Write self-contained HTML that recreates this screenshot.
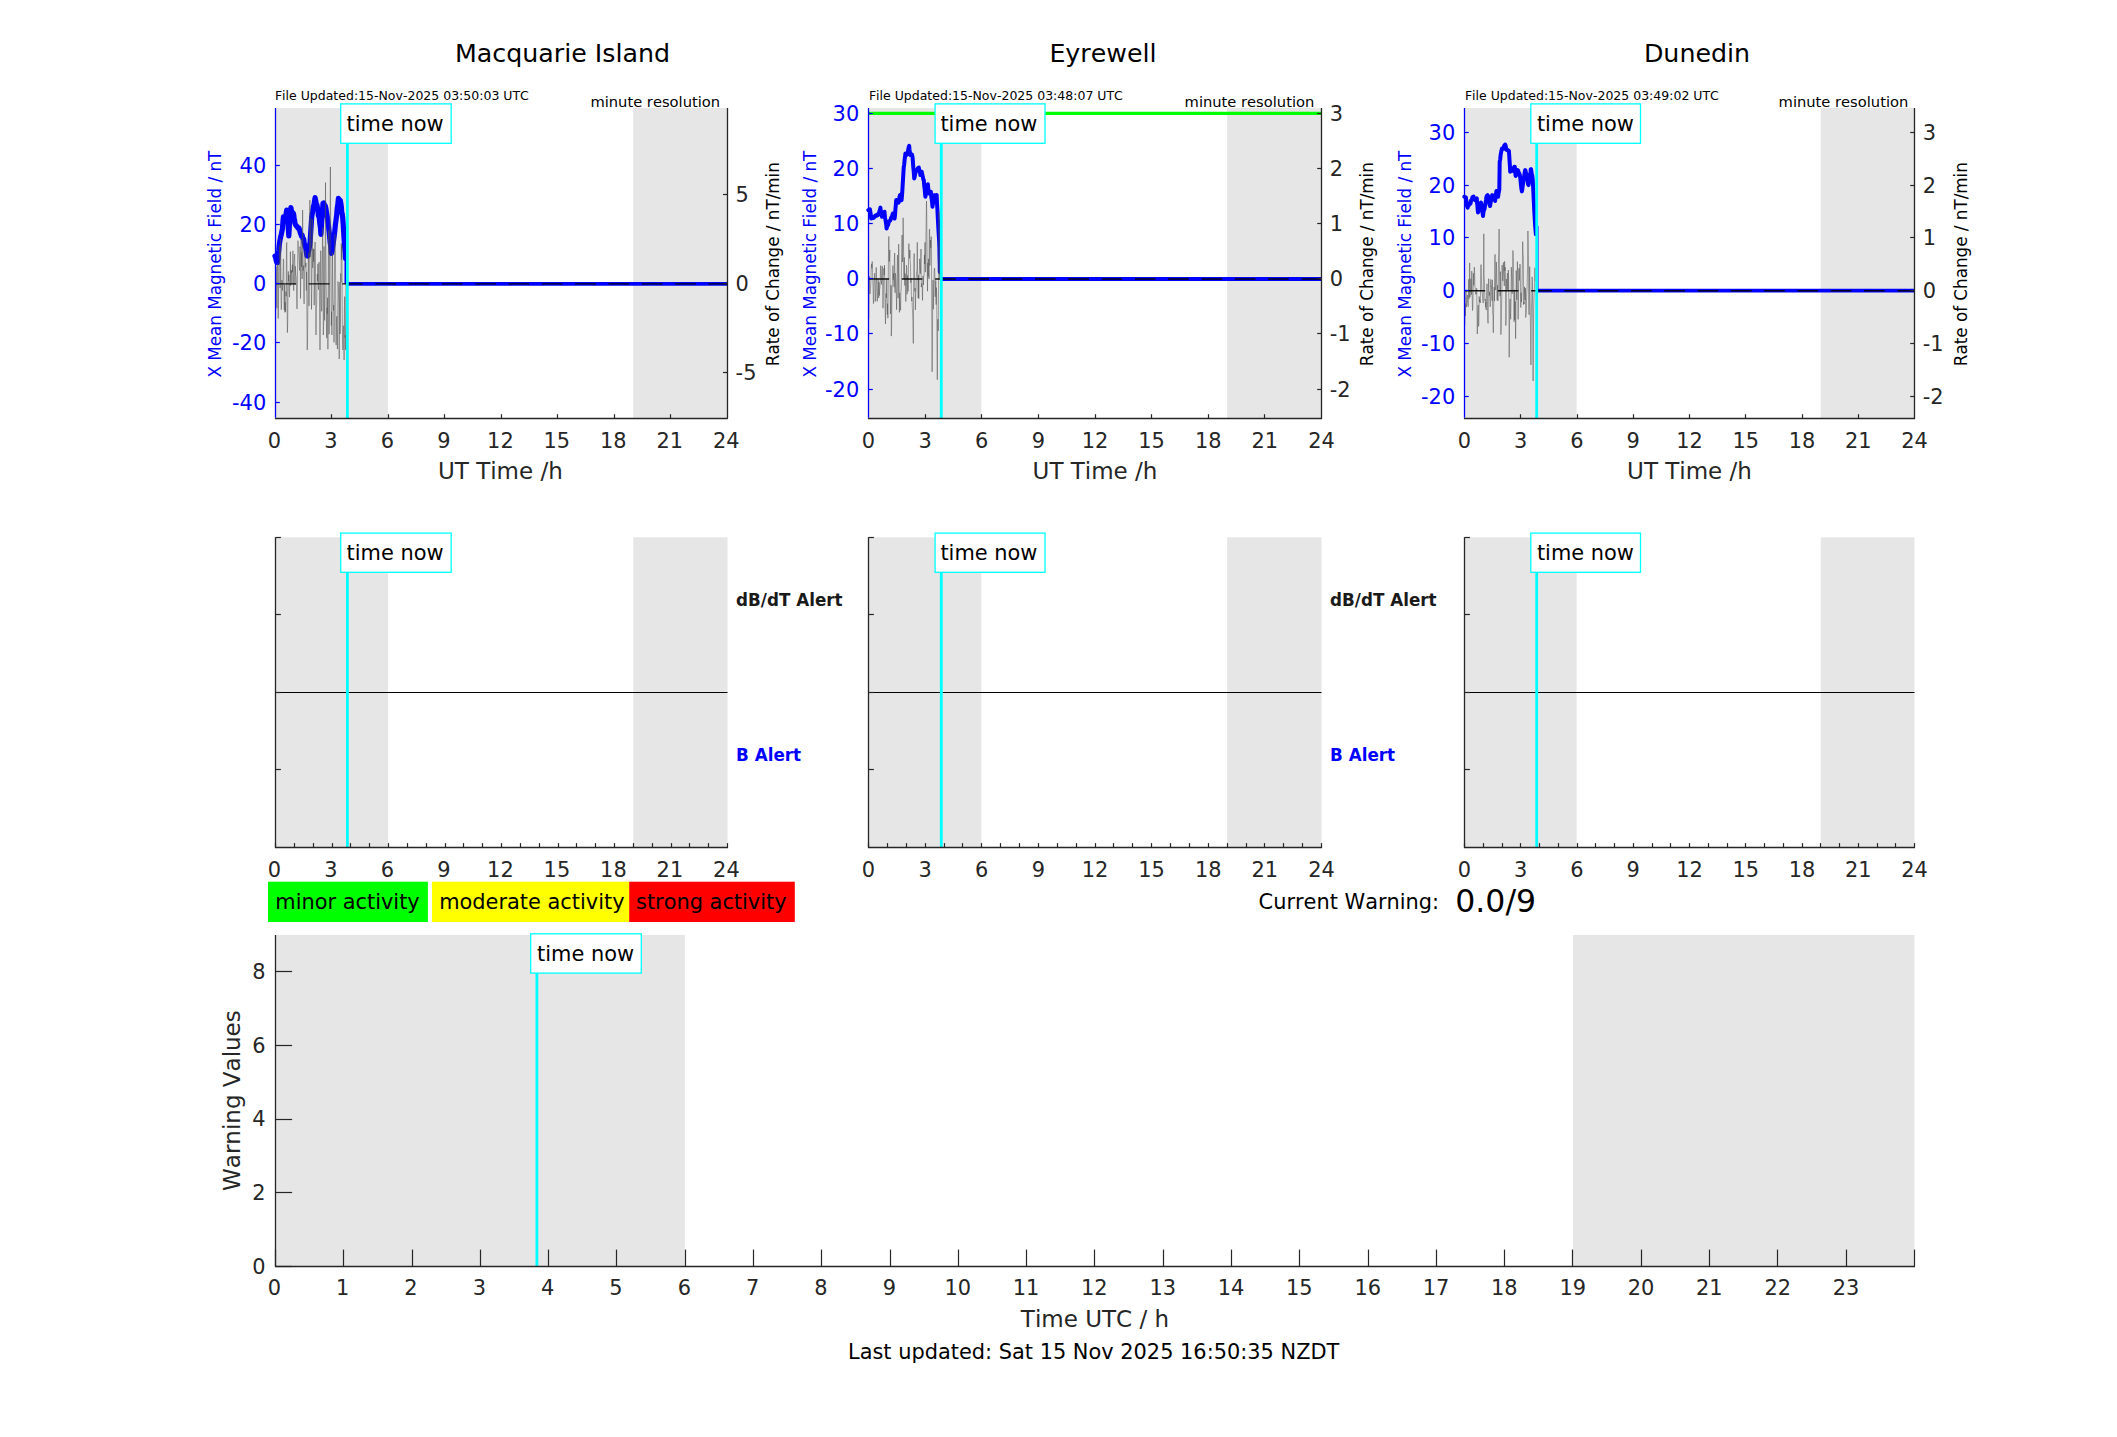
<!DOCTYPE html>
<html lang="en"><head><meta charset="utf-8"><title>Geomagnetic activity</title>
<style>html,body{margin:0;padding:0;background:#fff}svg{display:block}text{white-space:pre;font-kerning:none}</style></head>
<body>
<svg width="2117" height="1437" viewBox="0 0 2117 1437" font-family='"DejaVu Sans","Liberation Sans",sans-serif'>
<rect x="0.00" y="0.00" width="2117.00" height="1437.00" fill="#fff"/>
<rect x="275.50" y="108.00" width="112.55" height="310.30" fill="#e6e6e6"/>
<rect x="633.17" y="108.00" width="94.12" height="310.30" fill="#e6e6e6"/>
<path d="M275.0 256.0 L275.6 257.2 L276.3 261.0 L276.9 262.5 L277.5 262.7 L278.1 255.8 L278.8 250.2 L279.4 244.0 L280.0 240.2 L280.6 237.2 L281.3 234.3 L281.9 231.4 L282.5 228.5 L282.9 222.5 L283.4 216.8 L284.0 218.7 L284.6 221.0 L285.0 219.2 L285.4 219.3 L286.1 213.7 L286.7 210.1 L287.2 214.2 L287.7 216.8 L288.2 225.7 L288.8 236.0 L289.3 227.1 L289.9 216.8 L290.4 213.3 L290.9 207.6 L291.5 211.1 L292.1 211.8 L292.7 214.4 L293.4 213.4 L293.8 215.3 L294.2 219.3 L294.6 220.3 L295.0 223.5 L295.9 225.6 L296.7 226.0 L297.5 227.5 L298.4 228.5 L299.0 228.1 L299.6 230.1 L300.3 232.9 L300.9 234.3 L301.5 236.2 L302.1 235.1 L302.8 238.2 L303.4 238.5 L303.8 239.8 L304.2 243.5 L304.6 244.4 L305.1 246.8 L305.7 247.4 L306.3 251.8 L306.9 255.8 L307.6 256.0 L308.2 252.0 L308.8 250.2 L309.4 246.9 L310.1 241.8 L310.5 235.7 L310.9 229.3 L311.3 223.4 L311.7 216.8 L312.6 211.9 L313.4 206.8 L314.2 203.5 L315.1 197.6 L315.7 200.9 L316.3 203.4 L317.0 205.1 L317.6 208.4 L318.0 210.6 L318.4 215.9 L318.8 216.3 L319.2 216.8 L319.7 222.6 L320.1 225.1 L320.5 228.3 L320.9 234.3 L321.4 226.3 L321.9 216.8 L322.5 210.6 L323.0 203.4 L323.7 202.9 L324.4 205.1 L325.2 205.6 L325.9 208.4 L326.6 213.3 L327.2 216.8 L327.8 220.7 L328.4 225.1 L328.8 228.9 L329.3 233.5 L329.7 237.6 L330.1 241.8 L330.7 246.1 L331.4 253.5 L331.9 251.8 L332.4 248.5 L332.9 245.5 L333.4 241.8 L334.1 236.9 L334.7 231.8 L335.3 225.7 L335.9 221.0 L336.6 215.9 L337.2 208.4 L337.8 204.7 L338.4 198.4 L339.1 199.4 L339.7 200.1 L340.3 200.5 L341.0 204.3 L341.4 207.4 L341.8 213.4 L342.2 213.7 L342.6 216.8 L343.0 221.4 L343.5 229.3 L343.9 236.2 L344.3 241.8 L344.6 246.2 L345.0 250.2 L345.3 253.2 L345.5 258.5" fill="none" stroke="#0000ff" stroke-width="5.2" stroke-linejoin="round" stroke-linecap="round"/>
<path d="M275.8 310.0 L276.1 266.8 L276.4 270.6 L276.7 305.8 L277.0 308.1 L277.3 279.8 L277.6 263.8 L277.9 275.6 L278.2 318.5 L278.5 299.9 L278.8 265.7 L279.2 259.2 L279.5 245.3 L279.8 266.3 L280.1 288.1 L280.4 262.3 L280.7 238.7 L281.0 296.8 L281.3 309.7 L281.6 303.7 L281.9 280.1 L282.2 284.2 L282.5 290.5 L282.8 281.7 L283.1 271.1 L283.4 258.9 L283.7 260.4 L284.0 298.1 L284.3 310.1 L284.6 284.9 L284.9 312.4 L285.2 302.2 L285.6 311.7 L285.9 291.6 L286.2 296.2 L286.5 244.2 L286.8 242.5 L287.1 306.8 L287.4 332.6 L287.7 323.5 L288.0 292.0 L288.3 271.4 L288.6 281.2 L288.9 275.0 L289.2 292.3 L289.5 297.1 L289.8 281.1 L290.1 279.1 L290.4 251.7 L290.7 285.9 L291.0 269.7 L291.3 272.9 L291.6 271.0 L292.0 284.5 L292.3 264.7 L292.6 271.9 L292.9 250.9 L293.2 269.2 L293.5 289.2 L293.8 290.7 L294.1 262.5 L294.4 255.4 L294.7 254.1 L295.0 284.9 L295.3 266.3 L295.6 269.7 L295.9 275.2 L296.2 277.0 L296.5 286.4 L296.8 307.4 L297.1 309.0 L297.4 284.9 L297.7 253.7 L298.0 240.6 L298.4 250.8 L298.7 252.3 L299.0 259.0 L299.3 266.6 L299.6 270.6 L299.9 246.5 L300.2 249.6 L300.5 298.5 L300.8 275.2 L301.1 238.8 L301.4 266.8 L301.7 252.3 L302.0 278.1 L302.3 279.0 L302.6 210.0 L302.9 243.0 L303.2 270.6 L303.5 265.6 L303.8 291.2 L304.1 303.9 L304.4 281.4 L304.8 261.9 L305.1 250.5 L305.4 267.2 L305.7 265.8 L306.0 262.8 L306.3 290.5 L306.6 271.9 L306.9 310.6 L307.2 350.0 L307.5 342.9 L307.8 310.5 L308.1 271.7 L308.4 252.6 L308.7 261.1 L309.0 305.9 L309.3 260.3 L309.6 231.8 L309.9 200.0 L310.2 257.1 L310.5 229.2 L310.9 218.6 L311.2 272.1 L311.5 309.4 L311.8 290.0 L312.1 247.1 L312.4 218.8 L312.7 267.8 L313.0 261.2 L313.3 248.7 L313.6 261.7 L313.9 249.2 L314.2 305.2 L314.5 285.2 L314.8 248.6 L315.1 242.0 L315.4 264.3 L315.7 299.7 L316.0 335.0 L316.3 307.9 L316.6 304.6 L316.9 288.4 L317.3 274.0 L317.6 281.1 L317.9 263.8 L318.2 285.8 L318.5 289.7 L318.8 275.0 L319.1 262.0 L319.4 285.4 L319.7 326.5 L320.0 350.0 L320.3 325.2 L320.6 250.7 L320.9 250.9 L321.2 294.0 L321.5 311.3 L321.8 310.9 L322.1 276.6 L322.4 249.4 L322.7 227.2 L323.0 287.8 L323.3 335.0 L323.7 324.1 L324.0 246.5 L324.3 300.4 L324.6 320.4 L324.9 300.7 L325.2 275.9 L325.5 182.6 L325.8 248.1 L326.1 271.6 L326.4 316.8 L326.7 338.1 L327.0 307.8 L327.3 313.9 L327.6 297.8 L327.9 349.2 L328.2 289.3 L328.5 230.3 L328.8 258.5 L329.1 334.2 L329.4 309.8 L329.7 232.9 L330.1 215.9 L330.4 167.0 L330.7 231.6 L331.0 287.5 L331.3 325.5 L331.6 311.7 L331.9 335.0 L332.2 290.9 L332.5 252.6 L332.8 287.5 L333.1 300.7 L333.4 310.4 L333.7 305.2 L334.0 342.4 L334.3 319.4 L334.6 244.9 L334.9 234.2 L335.2 242.7 L335.5 265.2 L335.8 318.9 L336.1 345.0 L336.5 318.7 L336.8 316.3 L337.1 336.9 L337.4 349.1 L337.7 322.4 L338.0 281.4 L338.3 286.3 L338.6 291.9 L338.9 306.8 L339.2 359.0 L339.5 310.0 L339.8 282.2 L340.1 334.0 L340.4 324.8 L340.7 273.4 L341.0 282.5 L341.3 243.4 L341.6 259.5 L341.9 245.1 L342.2 304.9 L342.5 340.4 L342.9 350.0 L343.2 333.3 L343.5 326.2 L343.8 325.7 L344.1 360.0 L344.4 307.9 L344.7 296.6 L345.0 337.5 L345.3 335.2 L345.6 349.8 L345.9 277.2" fill="none" stroke="#4d4d4d" stroke-width="0.5" stroke-linejoin="round"/>
<line x1="345.4" y1="238.0" x2="345.4" y2="283.9" stroke="#0000ff" stroke-width="1.8"/>
<line x1="347.4" y1="283.90" x2="727.3" y2="283.90" stroke="#0000ff" stroke-width="3.8"/>
<line x1="275.5" y1="283.90" x2="727.3" y2="283.90" stroke="#000" stroke-opacity="0.9" stroke-width="1.4" stroke-dasharray="20.6 12.7"/>
<line x1="347.40" y1="128.00" x2="347.40" y2="418.30" stroke="#00ffff" stroke-width="2.8"/>
<line x1="274.90" y1="418.50" x2="727.90" y2="418.50" stroke="#262626" stroke-width="1.3"/>
<line x1="727.50" y1="108.00" x2="727.50" y2="418.30" stroke="#262626" stroke-width="1.3"/>
<text x="274.50" y="448.10" font-size="20.9" fill="#262626" text-anchor="middle">0</text>
<line x1="331.50" y1="414.20" x2="331.50" y2="418.30" stroke="#262626" stroke-width="1.2"/>
<text x="330.98" y="448.10" font-size="20.9" fill="#262626" text-anchor="middle">3</text>
<line x1="388.50" y1="414.20" x2="388.50" y2="418.30" stroke="#262626" stroke-width="1.2"/>
<text x="387.45" y="448.10" font-size="20.9" fill="#262626" text-anchor="middle">6</text>
<line x1="444.50" y1="414.20" x2="444.50" y2="418.30" stroke="#262626" stroke-width="1.2"/>
<text x="443.92" y="448.10" font-size="20.9" fill="#262626" text-anchor="middle">9</text>
<line x1="501.50" y1="414.20" x2="501.50" y2="418.30" stroke="#262626" stroke-width="1.2"/>
<text x="500.40" y="448.10" font-size="20.9" fill="#262626" text-anchor="middle">12</text>
<line x1="557.50" y1="414.20" x2="557.50" y2="418.30" stroke="#262626" stroke-width="1.2"/>
<text x="556.88" y="448.10" font-size="20.9" fill="#262626" text-anchor="middle">15</text>
<line x1="614.50" y1="414.20" x2="614.50" y2="418.30" stroke="#262626" stroke-width="1.2"/>
<text x="613.35" y="448.10" font-size="20.9" fill="#262626" text-anchor="middle">18</text>
<line x1="670.50" y1="414.20" x2="670.50" y2="418.30" stroke="#262626" stroke-width="1.2"/>
<text x="669.83" y="448.10" font-size="20.9" fill="#262626" text-anchor="middle">21</text>
<text x="726.30" y="448.10" font-size="20.9" fill="#262626" text-anchor="middle">24</text>
<line x1="275.50" y1="108.00" x2="275.50" y2="417.70" stroke="#0000ff" stroke-width="1.3"/>
<line x1="275.50" y1="165.50" x2="279.80" y2="165.50" stroke="#0000ff" stroke-width="1.2"/>
<text x="266.20" y="173.10" font-size="20.9" fill="#0000ff" text-anchor="end">40</text>
<line x1="275.50" y1="224.50" x2="279.80" y2="224.50" stroke="#0000ff" stroke-width="1.2"/>
<text x="266.20" y="232.10" font-size="20.9" fill="#0000ff" text-anchor="end">20</text>
<line x1="275.50" y1="283.50" x2="279.80" y2="283.50" stroke="#0000ff" stroke-width="1.2"/>
<text x="266.20" y="291.10" font-size="20.9" fill="#0000ff" text-anchor="end">0</text>
<line x1="275.50" y1="342.50" x2="279.80" y2="342.50" stroke="#0000ff" stroke-width="1.2"/>
<text x="266.20" y="350.10" font-size="20.9" fill="#0000ff" text-anchor="end">-20</text>
<line x1="275.50" y1="402.50" x2="279.80" y2="402.50" stroke="#0000ff" stroke-width="1.2"/>
<text x="266.20" y="410.00" font-size="20.9" fill="#0000ff" text-anchor="end">-40</text>
<line x1="723.00" y1="194.50" x2="727.30" y2="194.50" stroke="#262626" stroke-width="1.2"/>
<text x="735.60" y="202.00" font-size="20.9" fill="#262626">5</text>
<line x1="723.00" y1="283.50" x2="727.30" y2="283.50" stroke="#262626" stroke-width="1.2"/>
<text x="735.60" y="291.10" font-size="20.9" fill="#262626">0</text>
<line x1="723.00" y1="372.50" x2="727.30" y2="372.50" stroke="#262626" stroke-width="1.2"/>
<text x="735.60" y="380.10" font-size="20.9" fill="#262626">-5</text>
<text x="500.40" y="478.80" font-size="23.0" fill="#262626" text-anchor="middle">UT Time /h</text>
<text x="562.50" y="62.00" font-size="25.3" fill="#000" text-anchor="middle">Macquarie Island</text>
<text x="274.90" y="100.00" font-size="12.5" fill="#000">File Updated:15-Nov-2025 03:50:03 UTC</text>
<text x="720.10" y="106.90" font-size="14.7" fill="#000" text-anchor="end">minute resolution</text>
<text x="221.10" y="264.15" font-size="16.76" fill="#0000ff" text-anchor="middle" transform="rotate(-90 221.10 264.15)">X Mean Magnetic Field / nT</text>
<text x="779.20" y="264.15" font-size="16.76" fill="#000" text-anchor="middle" transform="rotate(-90 779.20 264.15)">Rate of Change / nT/min</text>
<rect x="340.70" y="103.90" width="110.50" height="39.40" fill="#fff" stroke="#00ffff" stroke-width="1.3"/>
<text x="346.60" y="131.00" font-size="20.9" fill="#000">time now</text>
<rect x="868.50" y="108.00" width="112.85" height="310.30" fill="#e6e6e6"/>
<rect x="1227.12" y="108.00" width="94.38" height="310.30" fill="#e6e6e6"/>
<line x1="868.50" y1="113.30" x2="1321.50" y2="113.30" stroke="#00ff00" stroke-width="3.3"/>
<path d="M868.3 210.1 L869.1 209.8 L869.9 209.3 L870.6 213.3 L871.2 218.5 L872.0 216.9 L872.9 218.1 L873.7 217.9 L874.5 216.8 L875.4 215.5 L876.2 216.0 L877.0 214.8 L877.9 215.1 L878.5 213.6 L879.1 212.6 L879.7 210.6 L880.4 207.6 L881.2 213.7 L882.0 216.8 L882.7 215.0 L883.3 213.5 L883.9 214.1 L884.5 211.8 L885.0 217.5 L885.5 220.2 L886.1 223.6 L886.6 228.5 L887.3 225.5 L888.0 225.2 L888.8 222.1 L889.5 221.0 L890.4 220.3 L891.2 217.6 L892.1 215.9 L892.9 213.5 L893.7 217.2 L894.6 218.5 L895.0 215.3 L895.4 209.3 L895.8 205.2 L896.2 200.1 L896.8 201.1 L897.5 201.8 L898.1 200.9 L898.7 202.6 L899.4 197.4 L900.0 195.1 L900.4 197.7 L900.8 198.4 L901.2 199.8 L901.6 200.1 L902.2 193.0 L902.7 184.3 L903.2 176.1 L903.7 167.6 L904.2 164.3 L904.6 160.1 L905.0 157.1 L905.4 153.4 L905.9 155.4 L906.4 155.0 L906.9 153.5 L907.5 154.2 L907.9 151.7 L908.3 149.2 L908.7 147.0 L909.2 145.9 L909.5 149.4 L909.7 150.9 L910.1 154.1 L910.4 155.0 L910.9 154.3 L911.4 155.0 L912.0 154.6 L912.5 156.7 L912.9 161.4 L913.3 167.6 L913.8 172.4 L914.2 178.4 L914.7 176.7 L915.3 173.4 L915.8 171.5 L916.3 170.1 L916.9 170.4 L917.5 169.2 L918.1 167.8 L918.8 167.6 L919.2 169.7 L919.6 171.7 L920.0 172.5 L920.4 175.1 L921.1 173.8 L921.7 171.7 L922.2 174.3 L922.8 176.7 L923.3 179.5 L923.8 180.1 L924.2 185.6 L924.6 188.4 L925.0 192.7 L925.4 196.8 L926.1 192.1 L926.7 190.1 L927.3 188.5 L927.9 184.3 L928.4 190.2 L928.8 193.4 L929.3 192.5 L929.8 191.8 L930.3 191.7 L930.9 191.8 L931.3 196.8 L931.7 199.3 L932.1 202.3 L932.5 206.8 L933.1 202.7 L933.6 200.1 L934.1 198.2 L934.6 195.1 L935.1 196.1 L935.6 195.9 L936.2 196.1 L936.7 195.1 L937.0 203.2 L937.4 209.3 L937.7 215.6 L938.0 221.8 L938.3 227.0 L938.6 232.7 L938.9 236.9 L939.2 242.7 L939.4 248.1 L939.5 255.2 L939.7 263.2 L939.8 271.9" fill="none" stroke="#0000ff" stroke-width="4.0" stroke-linejoin="round" stroke-linecap="round"/>
<path d="M868.8 319.0 L869.1 290.4 L869.4 276.3 L869.7 288.1 L870.0 293.9 L870.3 289.6 L870.7 286.0 L871.0 277.1 L871.3 266.4 L871.6 264.1 L871.9 268.3 L872.2 261.5 L872.5 272.7 L872.8 279.6 L873.1 289.3 L873.4 303.6 L873.7 300.9 L874.0 281.9 L874.4 279.5 L874.7 273.1 L875.0 284.5 L875.3 301.5 L875.6 297.3 L875.9 287.3 L876.2 267.4 L876.5 280.5 L876.8 284.9 L877.1 301.3 L877.4 301.2 L877.8 288.5 L878.1 278.0 L878.4 285.0 L878.7 298.0 L879.0 282.0 L879.3 295.6 L879.6 289.6 L879.9 287.8 L880.2 282.5 L880.5 267.3 L880.8 265.6 L881.1 279.5 L881.5 284.4 L881.8 271.5 L882.1 268.5 L882.4 266.2 L882.7 288.7 L883.0 308.2 L883.3 293.7 L883.6 278.7 L883.9 268.3 L884.2 275.1 L884.5 265.2 L884.9 293.0 L885.2 311.6 L885.5 324.0 L885.8 299.3 L886.1 293.5 L886.4 297.8 L886.7 278.7 L887.0 305.0 L887.3 314.6 L887.6 303.7 L887.9 318.3 L888.2 287.1 L888.6 240.1 L888.9 236.4 L889.2 261.5 L889.5 258.9 L889.8 250.0 L890.1 283.1 L890.4 314.0 L890.7 308.6 L891.0 285.0 L891.3 336.1 L891.6 327.4 L892.0 289.3 L892.3 286.2 L892.6 284.5 L892.9 265.5 L893.2 279.8 L893.5 273.4 L893.8 278.3 L894.1 287.2 L894.4 257.9 L894.7 253.0 L895.0 292.8 L895.3 273.3 L895.7 276.7 L896.0 288.7 L896.3 295.1 L896.6 309.7 L896.9 286.4 L897.2 270.1 L897.5 255.0 L897.8 270.4 L898.1 298.2 L898.4 281.6 L898.7 244.2 L899.1 282.4 L899.4 312.4 L899.7 292.9 L900.0 299.2 L900.3 304.1 L900.6 310.3 L900.9 290.9 L901.2 290.0 L901.5 266.7 L901.8 246.9 L902.1 235.0 L902.4 262.0 L902.8 255.1 L903.1 217.8 L903.4 233.8 L903.7 259.5 L904.0 279.0 L904.3 257.4 L904.6 278.1 L904.9 285.6 L905.2 273.5 L905.5 290.8 L905.8 301.5 L906.2 285.2 L906.5 265.2 L906.8 267.4 L907.1 294.3 L907.4 275.5 L907.7 279.7 L908.0 291.4 L908.3 288.2 L908.6 247.1 L908.9 243.6 L909.2 248.9 L909.5 258.3 L909.9 250.0 L910.2 261.4 L910.5 265.9 L910.8 282.9 L911.1 278.6 L911.4 294.5 L911.7 301.1 L912.0 297.0 L912.3 308.6 L912.6 310.1 L912.9 320.1 L913.3 343.4 L913.6 291.4 L913.9 260.0 L914.2 253.5 L914.5 273.9 L914.8 291.4 L915.1 288.1 L915.4 309.9 L915.7 294.6 L916.0 291.0 L916.3 277.4 L916.6 271.9 L917.0 269.9 L917.3 242.3 L917.6 280.0 L917.9 279.5 L918.2 298.0 L918.5 275.1 L918.8 298.8 L919.1 275.8 L919.4 271.3 L919.7 258.8 L920.0 264.6 L920.4 273.7 L920.7 262.8 L921.0 249.0 L921.3 287.2 L921.6 283.5 L921.9 286.2 L922.2 286.1 L922.5 300.4 L922.8 281.6 L923.1 275.8 L923.4 285.0 L923.7 276.6 L924.1 275.6 L924.4 254.9 L924.7 264.1 L925.0 242.4 L925.3 271.4 L925.6 272.1 L925.9 240.4 L926.2 219.7 L926.5 201.0 L926.8 220.7 L927.1 259.8 L927.5 291.2 L927.8 262.9 L928.1 276.7 L928.4 258.8 L928.7 263.0 L929.0 278.9 L929.3 230.1 L929.6 229.0 L929.9 265.6 L930.2 253.9 L930.5 240.0 L930.8 247.8 L931.2 236.6 L931.5 256.0 L931.8 322.3 L932.1 371.8 L932.4 346.3 L932.7 303.3 L933.0 280.1 L933.3 309.3 L933.6 297.6 L933.9 284.7 L934.2 269.7 L934.6 268.0 L934.9 276.1 L935.2 296.8 L935.5 289.4 L935.8 280.6 L936.1 304.6 L936.4 287.6 L936.7 295.4 L937.0 345.8 L937.3 379.7 L937.6 325.0 L937.9 319.2 L938.3 330.8 L938.6 273.4 L938.9 211.4 L939.2 227.6 L939.5 277.8 L939.8 258.0" fill="none" stroke="#4d4d4d" stroke-width="0.5" stroke-linejoin="round"/>
<line x1="941.3" y1="279.00" x2="1321.5" y2="279.00" stroke="#0000ff" stroke-width="3.8"/>
<line x1="868.5" y1="279.00" x2="1321.5" y2="279.00" stroke="#000" stroke-opacity="0.9" stroke-width="1.4" stroke-dasharray="20.6 12.7"/>
<line x1="941.30" y1="128.00" x2="941.30" y2="418.30" stroke="#00ffff" stroke-width="2.8"/>
<line x1="867.90" y1="418.50" x2="1322.10" y2="418.50" stroke="#262626" stroke-width="1.3"/>
<line x1="1321.50" y1="108.00" x2="1321.50" y2="418.30" stroke="#262626" stroke-width="1.3"/>
<text x="868.50" y="448.10" font-size="20.9" fill="#262626" text-anchor="middle">0</text>
<line x1="925.50" y1="414.20" x2="925.50" y2="418.30" stroke="#262626" stroke-width="1.2"/>
<text x="925.12" y="448.10" font-size="20.9" fill="#262626" text-anchor="middle">3</text>
<line x1="981.50" y1="414.20" x2="981.50" y2="418.30" stroke="#262626" stroke-width="1.2"/>
<text x="981.75" y="448.10" font-size="20.9" fill="#262626" text-anchor="middle">6</text>
<line x1="1038.50" y1="414.20" x2="1038.50" y2="418.30" stroke="#262626" stroke-width="1.2"/>
<text x="1038.38" y="448.10" font-size="20.9" fill="#262626" text-anchor="middle">9</text>
<line x1="1095.50" y1="414.20" x2="1095.50" y2="418.30" stroke="#262626" stroke-width="1.2"/>
<text x="1095.00" y="448.10" font-size="20.9" fill="#262626" text-anchor="middle">12</text>
<line x1="1151.50" y1="414.20" x2="1151.50" y2="418.30" stroke="#262626" stroke-width="1.2"/>
<text x="1151.62" y="448.10" font-size="20.9" fill="#262626" text-anchor="middle">15</text>
<line x1="1208.50" y1="414.20" x2="1208.50" y2="418.30" stroke="#262626" stroke-width="1.2"/>
<text x="1208.25" y="448.10" font-size="20.9" fill="#262626" text-anchor="middle">18</text>
<line x1="1264.50" y1="414.20" x2="1264.50" y2="418.30" stroke="#262626" stroke-width="1.2"/>
<text x="1264.88" y="448.10" font-size="20.9" fill="#262626" text-anchor="middle">21</text>
<text x="1321.50" y="448.10" font-size="20.9" fill="#262626" text-anchor="middle">24</text>
<line x1="868.50" y1="108.00" x2="868.50" y2="417.70" stroke="#0000ff" stroke-width="1.3"/>
<line x1="868.50" y1="113.50" x2="872.80" y2="113.50" stroke="#0000ff" stroke-width="1.2"/>
<text x="859.20" y="121.10" font-size="20.9" fill="#0000ff" text-anchor="end">30</text>
<line x1="868.50" y1="168.50" x2="872.80" y2="168.50" stroke="#0000ff" stroke-width="1.2"/>
<text x="859.20" y="176.10" font-size="20.9" fill="#0000ff" text-anchor="end">20</text>
<line x1="868.50" y1="223.50" x2="872.80" y2="223.50" stroke="#0000ff" stroke-width="1.2"/>
<text x="859.20" y="231.00" font-size="20.9" fill="#0000ff" text-anchor="end">10</text>
<line x1="868.50" y1="278.50" x2="872.80" y2="278.50" stroke="#0000ff" stroke-width="1.2"/>
<text x="859.20" y="286.20" font-size="20.9" fill="#0000ff" text-anchor="end">0</text>
<line x1="868.50" y1="333.50" x2="872.80" y2="333.50" stroke="#0000ff" stroke-width="1.2"/>
<text x="859.20" y="341.20" font-size="20.9" fill="#0000ff" text-anchor="end">-10</text>
<line x1="868.50" y1="389.50" x2="872.80" y2="389.50" stroke="#0000ff" stroke-width="1.2"/>
<text x="859.20" y="397.00" font-size="20.9" fill="#0000ff" text-anchor="end">-20</text>
<line x1="1317.20" y1="113.50" x2="1321.50" y2="113.50" stroke="#262626" stroke-width="1.2"/>
<text x="1329.80" y="121.10" font-size="20.9" fill="#262626">3</text>
<line x1="1317.20" y1="168.50" x2="1321.50" y2="168.50" stroke="#262626" stroke-width="1.2"/>
<text x="1329.80" y="176.10" font-size="20.9" fill="#262626">2</text>
<line x1="1317.20" y1="223.50" x2="1321.50" y2="223.50" stroke="#262626" stroke-width="1.2"/>
<text x="1329.80" y="231.00" font-size="20.9" fill="#262626">1</text>
<line x1="1317.20" y1="278.50" x2="1321.50" y2="278.50" stroke="#262626" stroke-width="1.2"/>
<text x="1329.80" y="286.20" font-size="20.9" fill="#262626">0</text>
<line x1="1317.20" y1="333.50" x2="1321.50" y2="333.50" stroke="#262626" stroke-width="1.2"/>
<text x="1329.80" y="341.20" font-size="20.9" fill="#262626">-1</text>
<line x1="1317.20" y1="389.50" x2="1321.50" y2="389.50" stroke="#262626" stroke-width="1.2"/>
<text x="1329.80" y="397.00" font-size="20.9" fill="#262626">-2</text>
<text x="1095.00" y="478.80" font-size="23.0" fill="#262626" text-anchor="middle">UT Time /h</text>
<text x="1103.00" y="62.00" font-size="25.3" fill="#000" text-anchor="middle">Eyrewell</text>
<text x="868.90" y="100.00" font-size="12.5" fill="#000">File Updated:15-Nov-2025 03:48:07 UTC</text>
<text x="1314.30" y="106.90" font-size="14.7" fill="#000" text-anchor="end">minute resolution</text>
<text x="815.80" y="264.15" font-size="16.76" fill="#0000ff" text-anchor="middle" transform="rotate(-90 815.80 264.15)">X Mean Magnetic Field / nT</text>
<text x="1373.00" y="264.15" font-size="16.76" fill="#000" text-anchor="middle" transform="rotate(-90 1373.00 264.15)">Rate of Change / nT/min</text>
<rect x="935.10" y="103.90" width="109.90" height="39.40" fill="#fff" stroke="#00ffff" stroke-width="1.3"/>
<text x="940.40" y="131.00" font-size="20.9" fill="#000">time now</text>
<rect x="1464.50" y="108.00" width="112.10" height="310.30" fill="#e6e6e6"/>
<rect x="1820.75" y="108.00" width="93.75" height="310.30" fill="#e6e6e6"/>
<path d="M1464.3 196.8 L1465.1 196.9 L1465.9 197.6 L1466.3 200.7 L1466.8 203.5 L1467.2 206.6 L1467.6 207.6 L1468.3 205.4 L1469.0 205.1 L1469.8 203.5 L1470.5 203.5 L1471.1 200.4 L1471.8 200.1 L1472.4 197.3 L1473.0 196.8 L1473.5 196.6 L1474.0 199.3 L1474.6 198.7 L1475.1 200.1 L1475.9 199.3 L1476.8 198.4 L1477.1 203.3 L1477.4 205.1 L1477.7 209.5 L1478.0 212.6 L1478.8 209.4 L1479.5 206.8 L1480.2 204.4 L1481.0 202.6 L1481.5 207.0 L1482.0 210.1 L1482.5 212.5 L1483.0 216.0 L1483.5 211.8 L1484.0 210.1 L1484.6 208.7 L1485.1 205.1 L1485.5 203.0 L1486.0 200.1 L1486.4 196.9 L1486.8 195.9 L1487.6 195.1 L1488.5 196.8 L1488.9 198.1 L1489.3 201.8 L1489.7 205.2 L1490.1 206.0 L1490.7 201.9 L1491.2 200.1 L1491.7 198.0 L1492.2 195.1 L1493.1 196.9 L1493.9 195.9 L1494.5 197.1 L1495.1 201.0 L1495.4 198.1 L1495.7 195.9 L1496.1 193.4 L1496.4 190.9 L1496.8 193.9 L1497.2 194.3 L1497.6 194.6 L1498.1 196.8 L1498.5 193.5 L1498.9 191.8 L1499.1 190.2 L1499.3 190.1 L1499.4 181.7 L1499.5 175.9 L1499.6 169.3 L1499.7 161.7 L1500.2 159.3 L1500.6 155.0 L1501.0 152.8 L1501.4 150.9 L1501.9 148.6 L1502.4 149.2 L1502.9 149.0 L1503.5 147.5 L1503.9 147.2 L1504.3 145.4 L1504.7 145.5 L1505.2 144.6 L1505.6 145.6 L1506.0 147.5 L1506.4 149.8 L1506.8 150.0 L1507.4 150.4 L1507.9 150.0 L1508.4 150.7 L1508.9 150.9 L1509.3 156.4 L1509.6 161.7 L1509.9 165.9 L1510.2 171.7 L1510.8 171.2 L1511.4 170.9 L1512.0 170.9 L1512.7 169.2 L1513.2 168.9 L1513.8 167.6 L1514.3 166.7 L1514.8 166.7 L1515.2 172.3 L1515.6 175.9 L1516.1 175.3 L1516.6 172.6 L1517.1 169.9 L1517.7 170.1 L1518.2 170.7 L1518.8 173.4 L1519.3 173.4 L1519.8 175.1 L1520.3 177.8 L1520.8 183.4 L1521.3 188.1 L1521.9 191.4 L1522.3 189.1 L1522.7 185.9 L1523.1 183.1 L1523.5 180.1 L1523.9 178.6 L1524.4 174.2 L1524.8 171.7 L1525.2 170.1 L1525.6 170.8 L1526.0 173.4 L1526.4 173.9 L1526.9 176.7 L1527.3 178.8 L1527.7 181.8 L1528.1 184.4 L1528.5 185.1 L1528.9 182.9 L1529.2 180.1 L1529.5 177.1 L1529.8 176.7 L1530.1 174.5 L1530.5 172.6 L1530.7 169.5 L1531.0 169.2 L1531.5 172.1 L1531.9 174.2 L1532.3 175.6 L1532.7 179.2 L1533.0 185.0 L1533.4 192.6 L1533.7 199.3 L1534.0 205.1 L1534.3 211.6 L1534.6 216.0 L1534.9 221.3 L1535.2 226.0 L1535.5 229.5 L1535.9 234.3" fill="none" stroke="#0000ff" stroke-width="4.0" stroke-linejoin="round" stroke-linecap="round"/>
<path d="M1464.8 325.0 L1465.1 304.4 L1465.4 315.8 L1465.7 301.8 L1466.0 289.8 L1466.3 307.1 L1466.6 302.9 L1466.9 302.0 L1467.2 296.6 L1467.6 295.0 L1467.9 305.4 L1468.2 306.7 L1468.5 286.2 L1468.8 279.2 L1469.1 298.8 L1469.4 286.1 L1469.7 262.9 L1470.0 297.0 L1470.3 290.0 L1470.6 289.9 L1470.9 278.6 L1471.2 292.5 L1471.5 294.6 L1471.8 271.1 L1472.1 290.7 L1472.5 310.5 L1472.8 307.8 L1473.1 294.7 L1473.4 273.3 L1473.7 285.3 L1474.0 280.2 L1474.3 267.1 L1474.6 271.1 L1474.9 287.0 L1475.2 287.6 L1475.5 294.3 L1475.8 293.5 L1476.1 294.2 L1476.4 291.5 L1476.7 288.2 L1477.0 312.3 L1477.3 334.0 L1477.7 312.4 L1478.0 305.2 L1478.3 305.2 L1478.6 326.4 L1478.9 320.7 L1479.2 296.5 L1479.5 302.1 L1479.8 299.7 L1480.1 301.6 L1480.4 302.9 L1480.7 276.1 L1481.0 264.6 L1481.3 273.9 L1481.6 286.4 L1481.9 291.4 L1482.2 292.5 L1482.6 296.3 L1482.9 299.0 L1483.2 303.1 L1483.5 272.2 L1483.8 233.8 L1484.1 276.7 L1484.4 281.2 L1484.7 292.8 L1485.0 300.8 L1485.3 299.1 L1485.6 307.3 L1485.9 301.7 L1486.2 310.1 L1486.5 299.8 L1486.8 287.9 L1487.1 283.8 L1487.5 303.0 L1487.8 321.2 L1488.1 323.4 L1488.4 288.1 L1488.7 278.6 L1489.0 292.1 L1489.3 295.6 L1489.6 291.9 L1489.9 297.8 L1490.2 306.8 L1490.5 289.4 L1490.8 279.4 L1491.1 286.5 L1491.4 285.9 L1491.7 291.7 L1492.0 300.7 L1492.3 279.8 L1492.7 314.2 L1493.0 314.7 L1493.3 332.8 L1493.6 312.5 L1493.9 294.8 L1494.2 287.2 L1494.5 301.1 L1494.8 258.0 L1495.1 254.4 L1495.4 290.0 L1495.7 290.0 L1496.0 282.6 L1496.3 261.9 L1496.6 268.9 L1496.9 293.7 L1497.2 300.3 L1497.6 285.3 L1497.9 300.9 L1498.2 294.8 L1498.5 257.3 L1498.8 254.0 L1499.1 229.0 L1499.4 266.2 L1499.7 276.1 L1500.0 296.2 L1500.3 271.6 L1500.6 299.5 L1500.9 334.6 L1501.2 323.9 L1501.5 310.6 L1501.8 296.3 L1502.1 265.0 L1502.4 274.3 L1502.8 280.9 L1503.1 275.1 L1503.4 262.5 L1503.7 273.0 L1504.0 275.1 L1504.3 285.9 L1504.6 261.3 L1504.9 270.9 L1505.2 267.2 L1505.5 277.7 L1505.8 325.6 L1506.1 320.8 L1506.4 279.1 L1506.7 281.9 L1507.0 289.8 L1507.3 273.2 L1507.7 273.6 L1508.0 289.9 L1508.3 270.0 L1508.6 280.1 L1508.9 306.3 L1509.2 357.3 L1509.5 327.3 L1509.8 303.4 L1510.1 299.0 L1510.4 313.7 L1510.7 319.3 L1511.0 303.1 L1511.3 267.2 L1511.6 275.0 L1511.9 281.2 L1512.2 293.8 L1512.5 276.9 L1512.9 250.5 L1513.2 256.3 L1513.5 272.6 L1513.8 298.2 L1514.1 321.8 L1514.4 289.8 L1514.7 319.9 L1515.0 307.3 L1515.3 301.5 L1515.6 338.7 L1515.9 318.3 L1516.2 270.5 L1516.5 281.0 L1516.8 300.0 L1517.1 278.2 L1517.4 261.6 L1517.8 277.4 L1518.1 319.4 L1518.4 303.8 L1518.7 280.6 L1519.0 268.3 L1519.3 280.6 L1519.6 273.3 L1519.9 264.1 L1520.2 265.0 L1520.5 287.5 L1520.8 307.6 L1521.1 292.7 L1521.4 302.2 L1521.7 300.2 L1522.0 287.0 L1522.3 269.8 L1522.7 241.6 L1523.0 254.4 L1523.3 255.2 L1523.6 304.7 L1523.9 301.9 L1524.2 303.9 L1524.5 286.8 L1524.8 294.6 L1525.1 300.0 L1525.4 288.2 L1525.7 317.5 L1526.0 314.8 L1526.3 312.7 L1526.6 297.5 L1526.9 290.2 L1527.2 283.9 L1527.5 267.4 L1527.9 231.0 L1528.2 242.5 L1528.5 262.3 L1528.8 309.4 L1529.1 314.8 L1529.4 287.0 L1529.7 266.6 L1530.0 294.3 L1530.3 319.3 L1530.6 328.3 L1530.9 365.0 L1531.2 326.0 L1531.5 303.8 L1531.8 299.7 L1532.1 276.9 L1532.4 281.7 L1532.8 330.8 L1533.1 381.0 L1533.4 336.3 L1533.7 306.2 L1534.0 296.8 L1534.3 289.6 L1534.6 284.2 L1534.9 267.7 L1535.2 281.1" fill="none" stroke="#4d4d4d" stroke-width="0.5" stroke-linejoin="round"/>
<line x1="1537.6" y1="226.0" x2="1537.6" y2="290.7" stroke="#0000ff" stroke-width="1.8"/>
<line x1="1536.7" y1="290.70" x2="1914.5" y2="290.70" stroke="#0000ff" stroke-width="3.8"/>
<line x1="1464.5" y1="290.70" x2="1914.5" y2="290.70" stroke="#000" stroke-opacity="0.9" stroke-width="1.4" stroke-dasharray="20.6 12.7"/>
<line x1="1536.70" y1="128.00" x2="1536.70" y2="418.30" stroke="#00ffff" stroke-width="2.8"/>
<line x1="1463.90" y1="418.50" x2="1915.10" y2="418.50" stroke="#262626" stroke-width="1.3"/>
<line x1="1914.50" y1="108.00" x2="1914.50" y2="418.30" stroke="#262626" stroke-width="1.3"/>
<text x="1464.50" y="448.10" font-size="20.9" fill="#262626" text-anchor="middle">0</text>
<line x1="1520.50" y1="414.20" x2="1520.50" y2="418.30" stroke="#262626" stroke-width="1.2"/>
<text x="1520.75" y="448.10" font-size="20.9" fill="#262626" text-anchor="middle">3</text>
<line x1="1577.50" y1="414.20" x2="1577.50" y2="418.30" stroke="#262626" stroke-width="1.2"/>
<text x="1577.00" y="448.10" font-size="20.9" fill="#262626" text-anchor="middle">6</text>
<line x1="1633.50" y1="414.20" x2="1633.50" y2="418.30" stroke="#262626" stroke-width="1.2"/>
<text x="1633.25" y="448.10" font-size="20.9" fill="#262626" text-anchor="middle">9</text>
<line x1="1689.50" y1="414.20" x2="1689.50" y2="418.30" stroke="#262626" stroke-width="1.2"/>
<text x="1689.50" y="448.10" font-size="20.9" fill="#262626" text-anchor="middle">12</text>
<line x1="1745.50" y1="414.20" x2="1745.50" y2="418.30" stroke="#262626" stroke-width="1.2"/>
<text x="1745.75" y="448.10" font-size="20.9" fill="#262626" text-anchor="middle">15</text>
<line x1="1802.50" y1="414.20" x2="1802.50" y2="418.30" stroke="#262626" stroke-width="1.2"/>
<text x="1802.00" y="448.10" font-size="20.9" fill="#262626" text-anchor="middle">18</text>
<line x1="1858.50" y1="414.20" x2="1858.50" y2="418.30" stroke="#262626" stroke-width="1.2"/>
<text x="1858.25" y="448.10" font-size="20.9" fill="#262626" text-anchor="middle">21</text>
<text x="1914.50" y="448.10" font-size="20.9" fill="#262626" text-anchor="middle">24</text>
<line x1="1464.50" y1="108.00" x2="1464.50" y2="417.70" stroke="#0000ff" stroke-width="1.3"/>
<line x1="1464.50" y1="132.50" x2="1468.80" y2="132.50" stroke="#0000ff" stroke-width="1.2"/>
<text x="1455.20" y="140.00" font-size="20.9" fill="#0000ff" text-anchor="end">30</text>
<line x1="1464.50" y1="185.50" x2="1468.80" y2="185.50" stroke="#0000ff" stroke-width="1.2"/>
<text x="1455.20" y="193.00" font-size="20.9" fill="#0000ff" text-anchor="end">20</text>
<line x1="1464.50" y1="237.50" x2="1468.80" y2="237.50" stroke="#0000ff" stroke-width="1.2"/>
<text x="1455.20" y="245.10" font-size="20.9" fill="#0000ff" text-anchor="end">10</text>
<line x1="1464.50" y1="290.50" x2="1468.80" y2="290.50" stroke="#0000ff" stroke-width="1.2"/>
<text x="1455.20" y="298.00" font-size="20.9" fill="#0000ff" text-anchor="end">0</text>
<line x1="1464.50" y1="343.50" x2="1468.80" y2="343.50" stroke="#0000ff" stroke-width="1.2"/>
<text x="1455.20" y="350.80" font-size="20.9" fill="#0000ff" text-anchor="end">-10</text>
<line x1="1464.50" y1="396.50" x2="1468.80" y2="396.50" stroke="#0000ff" stroke-width="1.2"/>
<text x="1455.20" y="403.80" font-size="20.9" fill="#0000ff" text-anchor="end">-20</text>
<line x1="1910.20" y1="132.50" x2="1914.50" y2="132.50" stroke="#262626" stroke-width="1.2"/>
<text x="1922.80" y="140.00" font-size="20.9" fill="#262626">3</text>
<line x1="1910.20" y1="185.50" x2="1914.50" y2="185.50" stroke="#262626" stroke-width="1.2"/>
<text x="1922.80" y="193.00" font-size="20.9" fill="#262626">2</text>
<line x1="1910.20" y1="237.50" x2="1914.50" y2="237.50" stroke="#262626" stroke-width="1.2"/>
<text x="1922.80" y="245.10" font-size="20.9" fill="#262626">1</text>
<line x1="1910.20" y1="290.50" x2="1914.50" y2="290.50" stroke="#262626" stroke-width="1.2"/>
<text x="1922.80" y="298.00" font-size="20.9" fill="#262626">0</text>
<line x1="1910.20" y1="343.50" x2="1914.50" y2="343.50" stroke="#262626" stroke-width="1.2"/>
<text x="1922.80" y="350.80" font-size="20.9" fill="#262626">-1</text>
<line x1="1910.20" y1="396.50" x2="1914.50" y2="396.50" stroke="#262626" stroke-width="1.2"/>
<text x="1922.80" y="403.80" font-size="20.9" fill="#262626">-2</text>
<text x="1689.50" y="478.80" font-size="23.0" fill="#262626" text-anchor="middle">UT Time /h</text>
<text x="1697.00" y="62.00" font-size="25.3" fill="#000" text-anchor="middle">Dunedin</text>
<text x="1464.90" y="100.00" font-size="12.5" fill="#000">File Updated:15-Nov-2025 03:49:02 UTC</text>
<text x="1908.30" y="106.90" font-size="14.7" fill="#000" text-anchor="end">minute resolution</text>
<text x="1411.10" y="264.15" font-size="16.76" fill="#0000ff" text-anchor="middle" transform="rotate(-90 1411.10 264.15)">X Mean Magnetic Field / nT</text>
<text x="1967.30" y="264.15" font-size="16.76" fill="#000" text-anchor="middle" transform="rotate(-90 1967.30 264.15)">Rate of Change / nT/min</text>
<rect x="1530.80" y="103.90" width="109.70" height="39.40" fill="#fff" stroke="#00ffff" stroke-width="1.3"/>
<text x="1536.90" y="131.00" font-size="20.9" fill="#000">time now</text>
<rect x="275.50" y="537.30" width="112.60" height="309.90" fill="#e6e6e6"/>
<rect x="633.33" y="537.30" width="94.17" height="309.90" fill="#e6e6e6"/>
<line x1="275.50" y1="692.50" x2="727.50" y2="692.50" stroke="#000" stroke-width="1.1"/>
<line x1="347.40" y1="557.30" x2="347.40" y2="847.20" stroke="#00ffff" stroke-width="2.8"/>
<line x1="274.90" y1="847.50" x2="728.10" y2="847.50" stroke="#262626" stroke-width="1.3"/>
<line x1="275.50" y1="537.30" x2="275.50" y2="847.20" stroke="#262626" stroke-width="1.3"/>
<line x1="275.50" y1="843.10" x2="275.50" y2="847.20" stroke="#262626" stroke-width="1.2"/>
<text x="274.40" y="877.00" font-size="20.9" fill="#262626" text-anchor="middle">0</text>
<line x1="294.50" y1="843.10" x2="294.50" y2="847.20" stroke="#262626" stroke-width="1.2"/>
<line x1="313.50" y1="843.10" x2="313.50" y2="847.20" stroke="#262626" stroke-width="1.2"/>
<line x1="332.50" y1="843.10" x2="332.50" y2="847.20" stroke="#262626" stroke-width="1.2"/>
<text x="330.90" y="877.00" font-size="20.9" fill="#262626" text-anchor="middle">3</text>
<line x1="350.50" y1="843.10" x2="350.50" y2="847.20" stroke="#262626" stroke-width="1.2"/>
<line x1="369.50" y1="843.10" x2="369.50" y2="847.20" stroke="#262626" stroke-width="1.2"/>
<line x1="388.50" y1="843.10" x2="388.50" y2="847.20" stroke="#262626" stroke-width="1.2"/>
<text x="387.40" y="877.00" font-size="20.9" fill="#262626" text-anchor="middle">6</text>
<line x1="407.50" y1="843.10" x2="407.50" y2="847.20" stroke="#262626" stroke-width="1.2"/>
<line x1="426.50" y1="843.10" x2="426.50" y2="847.20" stroke="#262626" stroke-width="1.2"/>
<line x1="445.50" y1="843.10" x2="445.50" y2="847.20" stroke="#262626" stroke-width="1.2"/>
<text x="443.90" y="877.00" font-size="20.9" fill="#262626" text-anchor="middle">9</text>
<line x1="463.50" y1="843.10" x2="463.50" y2="847.20" stroke="#262626" stroke-width="1.2"/>
<line x1="482.50" y1="843.10" x2="482.50" y2="847.20" stroke="#262626" stroke-width="1.2"/>
<line x1="501.50" y1="843.10" x2="501.50" y2="847.20" stroke="#262626" stroke-width="1.2"/>
<text x="500.40" y="877.00" font-size="20.9" fill="#262626" text-anchor="middle">12</text>
<line x1="520.50" y1="843.10" x2="520.50" y2="847.20" stroke="#262626" stroke-width="1.2"/>
<line x1="539.50" y1="843.10" x2="539.50" y2="847.20" stroke="#262626" stroke-width="1.2"/>
<line x1="558.50" y1="843.10" x2="558.50" y2="847.20" stroke="#262626" stroke-width="1.2"/>
<text x="556.90" y="877.00" font-size="20.9" fill="#262626" text-anchor="middle">15</text>
<line x1="576.50" y1="843.10" x2="576.50" y2="847.20" stroke="#262626" stroke-width="1.2"/>
<line x1="595.50" y1="843.10" x2="595.50" y2="847.20" stroke="#262626" stroke-width="1.2"/>
<line x1="614.50" y1="843.10" x2="614.50" y2="847.20" stroke="#262626" stroke-width="1.2"/>
<text x="613.40" y="877.00" font-size="20.9" fill="#262626" text-anchor="middle">18</text>
<line x1="633.50" y1="843.10" x2="633.50" y2="847.20" stroke="#262626" stroke-width="1.2"/>
<line x1="652.50" y1="843.10" x2="652.50" y2="847.20" stroke="#262626" stroke-width="1.2"/>
<line x1="671.50" y1="843.10" x2="671.50" y2="847.20" stroke="#262626" stroke-width="1.2"/>
<text x="669.90" y="877.00" font-size="20.9" fill="#262626" text-anchor="middle">21</text>
<line x1="689.50" y1="843.10" x2="689.50" y2="847.20" stroke="#262626" stroke-width="1.2"/>
<line x1="708.50" y1="843.10" x2="708.50" y2="847.20" stroke="#262626" stroke-width="1.2"/>
<line x1="727.50" y1="843.10" x2="727.50" y2="847.20" stroke="#262626" stroke-width="1.2"/>
<text x="726.40" y="877.00" font-size="20.9" fill="#262626" text-anchor="middle">24</text>
<line x1="275.50" y1="537.50" x2="280.90" y2="537.50" stroke="#262626" stroke-width="1.2"/>
<line x1="275.50" y1="614.50" x2="280.90" y2="614.50" stroke="#262626" stroke-width="1.2"/>
<line x1="275.50" y1="692.50" x2="280.90" y2="692.50" stroke="#262626" stroke-width="1.2"/>
<line x1="275.50" y1="769.50" x2="280.90" y2="769.50" stroke="#262626" stroke-width="1.2"/>
<text x="736.10" y="606.00" font-size="16.76" fill="#1a1a1a" font-weight="bold">dB/dT Alert</text>
<text x="736.10" y="761.00" font-size="16.76" fill="#0000ff" font-weight="bold">B Alert</text>
<rect x="340.70" y="533.10" width="110.50" height="39.20" fill="#fff" stroke="#00ffff" stroke-width="1.3"/>
<text x="346.60" y="560.20" font-size="20.9" fill="#000">time now</text>
<rect x="868.50" y="537.30" width="112.85" height="309.90" fill="#e6e6e6"/>
<rect x="1227.12" y="537.30" width="94.38" height="309.90" fill="#e6e6e6"/>
<line x1="868.50" y1="692.50" x2="1321.50" y2="692.50" stroke="#000" stroke-width="1.1"/>
<line x1="941.30" y1="557.30" x2="941.30" y2="847.20" stroke="#00ffff" stroke-width="2.8"/>
<line x1="867.90" y1="847.50" x2="1322.10" y2="847.50" stroke="#262626" stroke-width="1.3"/>
<line x1="868.50" y1="537.30" x2="868.50" y2="847.20" stroke="#262626" stroke-width="1.3"/>
<line x1="868.50" y1="843.10" x2="868.50" y2="847.20" stroke="#262626" stroke-width="1.2"/>
<text x="868.50" y="877.00" font-size="20.9" fill="#262626" text-anchor="middle">0</text>
<line x1="887.50" y1="843.10" x2="887.50" y2="847.20" stroke="#262626" stroke-width="1.2"/>
<line x1="906.50" y1="843.10" x2="906.50" y2="847.20" stroke="#262626" stroke-width="1.2"/>
<line x1="925.50" y1="843.10" x2="925.50" y2="847.20" stroke="#262626" stroke-width="1.2"/>
<text x="925.12" y="877.00" font-size="20.9" fill="#262626" text-anchor="middle">3</text>
<line x1="944.50" y1="843.10" x2="944.50" y2="847.20" stroke="#262626" stroke-width="1.2"/>
<line x1="962.50" y1="843.10" x2="962.50" y2="847.20" stroke="#262626" stroke-width="1.2"/>
<line x1="981.50" y1="843.10" x2="981.50" y2="847.20" stroke="#262626" stroke-width="1.2"/>
<text x="981.75" y="877.00" font-size="20.9" fill="#262626" text-anchor="middle">6</text>
<line x1="1000.50" y1="843.10" x2="1000.50" y2="847.20" stroke="#262626" stroke-width="1.2"/>
<line x1="1019.50" y1="843.10" x2="1019.50" y2="847.20" stroke="#262626" stroke-width="1.2"/>
<line x1="1038.50" y1="843.10" x2="1038.50" y2="847.20" stroke="#262626" stroke-width="1.2"/>
<text x="1038.38" y="877.00" font-size="20.9" fill="#262626" text-anchor="middle">9</text>
<line x1="1057.50" y1="843.10" x2="1057.50" y2="847.20" stroke="#262626" stroke-width="1.2"/>
<line x1="1076.50" y1="843.10" x2="1076.50" y2="847.20" stroke="#262626" stroke-width="1.2"/>
<line x1="1095.50" y1="843.10" x2="1095.50" y2="847.20" stroke="#262626" stroke-width="1.2"/>
<text x="1095.00" y="877.00" font-size="20.9" fill="#262626" text-anchor="middle">12</text>
<line x1="1113.50" y1="843.10" x2="1113.50" y2="847.20" stroke="#262626" stroke-width="1.2"/>
<line x1="1132.50" y1="843.10" x2="1132.50" y2="847.20" stroke="#262626" stroke-width="1.2"/>
<line x1="1151.50" y1="843.10" x2="1151.50" y2="847.20" stroke="#262626" stroke-width="1.2"/>
<text x="1151.62" y="877.00" font-size="20.9" fill="#262626" text-anchor="middle">15</text>
<line x1="1170.50" y1="843.10" x2="1170.50" y2="847.20" stroke="#262626" stroke-width="1.2"/>
<line x1="1189.50" y1="843.10" x2="1189.50" y2="847.20" stroke="#262626" stroke-width="1.2"/>
<line x1="1208.50" y1="843.10" x2="1208.50" y2="847.20" stroke="#262626" stroke-width="1.2"/>
<text x="1208.25" y="877.00" font-size="20.9" fill="#262626" text-anchor="middle">18</text>
<line x1="1227.50" y1="843.10" x2="1227.50" y2="847.20" stroke="#262626" stroke-width="1.2"/>
<line x1="1246.50" y1="843.10" x2="1246.50" y2="847.20" stroke="#262626" stroke-width="1.2"/>
<line x1="1264.50" y1="843.10" x2="1264.50" y2="847.20" stroke="#262626" stroke-width="1.2"/>
<text x="1264.88" y="877.00" font-size="20.9" fill="#262626" text-anchor="middle">21</text>
<line x1="1283.50" y1="843.10" x2="1283.50" y2="847.20" stroke="#262626" stroke-width="1.2"/>
<line x1="1302.50" y1="843.10" x2="1302.50" y2="847.20" stroke="#262626" stroke-width="1.2"/>
<line x1="1321.50" y1="843.10" x2="1321.50" y2="847.20" stroke="#262626" stroke-width="1.2"/>
<text x="1321.50" y="877.00" font-size="20.9" fill="#262626" text-anchor="middle">24</text>
<line x1="868.50" y1="537.50" x2="873.90" y2="537.50" stroke="#262626" stroke-width="1.2"/>
<line x1="868.50" y1="614.50" x2="873.90" y2="614.50" stroke="#262626" stroke-width="1.2"/>
<line x1="868.50" y1="692.50" x2="873.90" y2="692.50" stroke="#262626" stroke-width="1.2"/>
<line x1="868.50" y1="769.50" x2="873.90" y2="769.50" stroke="#262626" stroke-width="1.2"/>
<text x="1330.10" y="606.00" font-size="16.76" fill="#1a1a1a" font-weight="bold">dB/dT Alert</text>
<text x="1330.10" y="761.00" font-size="16.76" fill="#0000ff" font-weight="bold">B Alert</text>
<rect x="935.10" y="533.10" width="109.90" height="39.20" fill="#fff" stroke="#00ffff" stroke-width="1.3"/>
<text x="940.40" y="560.20" font-size="20.9" fill="#000">time now</text>
<rect x="1464.50" y="537.30" width="112.10" height="309.90" fill="#e6e6e6"/>
<rect x="1820.75" y="537.30" width="93.75" height="309.90" fill="#e6e6e6"/>
<line x1="1464.50" y1="692.50" x2="1914.50" y2="692.50" stroke="#000" stroke-width="1.1"/>
<line x1="1536.70" y1="557.30" x2="1536.70" y2="847.20" stroke="#00ffff" stroke-width="2.8"/>
<line x1="1463.90" y1="847.50" x2="1915.10" y2="847.50" stroke="#262626" stroke-width="1.3"/>
<line x1="1464.50" y1="537.30" x2="1464.50" y2="847.20" stroke="#262626" stroke-width="1.3"/>
<line x1="1464.50" y1="843.10" x2="1464.50" y2="847.20" stroke="#262626" stroke-width="1.2"/>
<text x="1464.50" y="877.00" font-size="20.9" fill="#262626" text-anchor="middle">0</text>
<line x1="1483.50" y1="843.10" x2="1483.50" y2="847.20" stroke="#262626" stroke-width="1.2"/>
<line x1="1502.50" y1="843.10" x2="1502.50" y2="847.20" stroke="#262626" stroke-width="1.2"/>
<line x1="1520.50" y1="843.10" x2="1520.50" y2="847.20" stroke="#262626" stroke-width="1.2"/>
<text x="1520.75" y="877.00" font-size="20.9" fill="#262626" text-anchor="middle">3</text>
<line x1="1539.50" y1="843.10" x2="1539.50" y2="847.20" stroke="#262626" stroke-width="1.2"/>
<line x1="1558.50" y1="843.10" x2="1558.50" y2="847.20" stroke="#262626" stroke-width="1.2"/>
<line x1="1577.50" y1="843.10" x2="1577.50" y2="847.20" stroke="#262626" stroke-width="1.2"/>
<text x="1577.00" y="877.00" font-size="20.9" fill="#262626" text-anchor="middle">6</text>
<line x1="1595.50" y1="843.10" x2="1595.50" y2="847.20" stroke="#262626" stroke-width="1.2"/>
<line x1="1614.50" y1="843.10" x2="1614.50" y2="847.20" stroke="#262626" stroke-width="1.2"/>
<line x1="1633.50" y1="843.10" x2="1633.50" y2="847.20" stroke="#262626" stroke-width="1.2"/>
<text x="1633.25" y="877.00" font-size="20.9" fill="#262626" text-anchor="middle">9</text>
<line x1="1652.50" y1="843.10" x2="1652.50" y2="847.20" stroke="#262626" stroke-width="1.2"/>
<line x1="1670.50" y1="843.10" x2="1670.50" y2="847.20" stroke="#262626" stroke-width="1.2"/>
<line x1="1689.50" y1="843.10" x2="1689.50" y2="847.20" stroke="#262626" stroke-width="1.2"/>
<text x="1689.50" y="877.00" font-size="20.9" fill="#262626" text-anchor="middle">12</text>
<line x1="1708.50" y1="843.10" x2="1708.50" y2="847.20" stroke="#262626" stroke-width="1.2"/>
<line x1="1727.50" y1="843.10" x2="1727.50" y2="847.20" stroke="#262626" stroke-width="1.2"/>
<line x1="1745.50" y1="843.10" x2="1745.50" y2="847.20" stroke="#262626" stroke-width="1.2"/>
<text x="1745.75" y="877.00" font-size="20.9" fill="#262626" text-anchor="middle">15</text>
<line x1="1764.50" y1="843.10" x2="1764.50" y2="847.20" stroke="#262626" stroke-width="1.2"/>
<line x1="1783.50" y1="843.10" x2="1783.50" y2="847.20" stroke="#262626" stroke-width="1.2"/>
<line x1="1802.50" y1="843.10" x2="1802.50" y2="847.20" stroke="#262626" stroke-width="1.2"/>
<text x="1802.00" y="877.00" font-size="20.9" fill="#262626" text-anchor="middle">18</text>
<line x1="1820.50" y1="843.10" x2="1820.50" y2="847.20" stroke="#262626" stroke-width="1.2"/>
<line x1="1839.50" y1="843.10" x2="1839.50" y2="847.20" stroke="#262626" stroke-width="1.2"/>
<line x1="1858.50" y1="843.10" x2="1858.50" y2="847.20" stroke="#262626" stroke-width="1.2"/>
<text x="1858.25" y="877.00" font-size="20.9" fill="#262626" text-anchor="middle">21</text>
<line x1="1877.50" y1="843.10" x2="1877.50" y2="847.20" stroke="#262626" stroke-width="1.2"/>
<line x1="1895.50" y1="843.10" x2="1895.50" y2="847.20" stroke="#262626" stroke-width="1.2"/>
<line x1="1914.50" y1="843.10" x2="1914.50" y2="847.20" stroke="#262626" stroke-width="1.2"/>
<text x="1914.50" y="877.00" font-size="20.9" fill="#262626" text-anchor="middle">24</text>
<line x1="1464.50" y1="537.50" x2="1469.90" y2="537.50" stroke="#262626" stroke-width="1.2"/>
<line x1="1464.50" y1="614.50" x2="1469.90" y2="614.50" stroke="#262626" stroke-width="1.2"/>
<line x1="1464.50" y1="692.50" x2="1469.90" y2="692.50" stroke="#262626" stroke-width="1.2"/>
<line x1="1464.50" y1="769.50" x2="1469.90" y2="769.50" stroke="#262626" stroke-width="1.2"/>
<rect x="1530.80" y="533.10" width="109.70" height="39.20" fill="#fff" stroke="#00ffff" stroke-width="1.3"/>
<text x="1536.90" y="560.20" font-size="20.9" fill="#000">time now</text>
<rect x="268.00" y="881.70" width="159.90" height="40.30" fill="#00ff00"/>
<text x="275.30" y="908.90" font-size="20.9" fill="#000">minor activity</text>
<rect x="432.00" y="881.70" width="197.20" height="40.30" fill="#ffff00"/>
<text x="439.20" y="908.90" font-size="20.9" fill="#000">moderate activity</text>
<rect x="629.20" y="881.70" width="165.60" height="40.30" fill="#ff0000"/>
<text x="636.00" y="908.90" font-size="20.9" fill="#000">strong activity</text>
<text x="1258.60" y="909.00" font-size="20.9" fill="#000">Current Warning:</text>
<text x="1455.30" y="911.80" font-size="31.5" fill="#000">0.0/9</text>
<rect x="275.50" y="935.00" width="409.33" height="331.20" fill="#e6e6e6"/>
<rect x="1572.96" y="935.00" width="341.44" height="331.20" fill="#e6e6e6"/>
<line x1="536.90" y1="955.00" x2="536.90" y2="1266.20" stroke="#00ffff" stroke-width="2.8"/>
<line x1="274.90" y1="1266.50" x2="1915.00" y2="1266.50" stroke="#262626" stroke-width="1.3"/>
<line x1="275.50" y1="935.00" x2="275.50" y2="1266.20" stroke="#262626" stroke-width="1.3"/>
<line x1="275.50" y1="1249.60" x2="275.50" y2="1266.20" stroke="#262626" stroke-width="1.2"/>
<text x="274.30" y="1294.80" font-size="20.9" fill="#262626" text-anchor="middle">0</text>
<line x1="343.50" y1="1249.60" x2="343.50" y2="1266.20" stroke="#262626" stroke-width="1.2"/>
<text x="342.64" y="1294.80" font-size="20.9" fill="#262626" text-anchor="middle">1</text>
<line x1="412.50" y1="1249.60" x2="412.50" y2="1266.20" stroke="#262626" stroke-width="1.2"/>
<text x="410.98" y="1294.80" font-size="20.9" fill="#262626" text-anchor="middle">2</text>
<line x1="480.50" y1="1249.60" x2="480.50" y2="1266.20" stroke="#262626" stroke-width="1.2"/>
<text x="479.31" y="1294.80" font-size="20.9" fill="#262626" text-anchor="middle">3</text>
<line x1="548.50" y1="1249.60" x2="548.50" y2="1266.20" stroke="#262626" stroke-width="1.2"/>
<text x="547.65" y="1294.80" font-size="20.9" fill="#262626" text-anchor="middle">4</text>
<line x1="616.50" y1="1249.60" x2="616.50" y2="1266.20" stroke="#262626" stroke-width="1.2"/>
<text x="615.99" y="1294.80" font-size="20.9" fill="#262626" text-anchor="middle">5</text>
<line x1="685.50" y1="1249.60" x2="685.50" y2="1266.20" stroke="#262626" stroke-width="1.2"/>
<text x="684.33" y="1294.80" font-size="20.9" fill="#262626" text-anchor="middle">6</text>
<line x1="753.50" y1="1249.60" x2="753.50" y2="1266.20" stroke="#262626" stroke-width="1.2"/>
<text x="752.66" y="1294.80" font-size="20.9" fill="#262626" text-anchor="middle">7</text>
<line x1="821.50" y1="1249.60" x2="821.50" y2="1266.20" stroke="#262626" stroke-width="1.2"/>
<text x="821.00" y="1294.80" font-size="20.9" fill="#262626" text-anchor="middle">8</text>
<line x1="890.50" y1="1249.60" x2="890.50" y2="1266.20" stroke="#262626" stroke-width="1.2"/>
<text x="889.34" y="1294.80" font-size="20.9" fill="#262626" text-anchor="middle">9</text>
<line x1="958.50" y1="1249.60" x2="958.50" y2="1266.20" stroke="#262626" stroke-width="1.2"/>
<text x="957.68" y="1294.80" font-size="20.9" fill="#262626" text-anchor="middle">10</text>
<line x1="1026.50" y1="1249.60" x2="1026.50" y2="1266.20" stroke="#262626" stroke-width="1.2"/>
<text x="1026.01" y="1294.80" font-size="20.9" fill="#262626" text-anchor="middle">11</text>
<line x1="1094.50" y1="1249.60" x2="1094.50" y2="1266.20" stroke="#262626" stroke-width="1.2"/>
<text x="1094.35" y="1294.80" font-size="20.9" fill="#262626" text-anchor="middle">12</text>
<line x1="1163.50" y1="1249.60" x2="1163.50" y2="1266.20" stroke="#262626" stroke-width="1.2"/>
<text x="1162.69" y="1294.80" font-size="20.9" fill="#262626" text-anchor="middle">13</text>
<line x1="1231.50" y1="1249.60" x2="1231.50" y2="1266.20" stroke="#262626" stroke-width="1.2"/>
<text x="1231.02" y="1294.80" font-size="20.9" fill="#262626" text-anchor="middle">14</text>
<line x1="1299.50" y1="1249.60" x2="1299.50" y2="1266.20" stroke="#262626" stroke-width="1.2"/>
<text x="1299.36" y="1294.80" font-size="20.9" fill="#262626" text-anchor="middle">15</text>
<line x1="1368.50" y1="1249.60" x2="1368.50" y2="1266.20" stroke="#262626" stroke-width="1.2"/>
<text x="1367.70" y="1294.80" font-size="20.9" fill="#262626" text-anchor="middle">16</text>
<line x1="1436.50" y1="1249.60" x2="1436.50" y2="1266.20" stroke="#262626" stroke-width="1.2"/>
<text x="1436.04" y="1294.80" font-size="20.9" fill="#262626" text-anchor="middle">17</text>
<line x1="1504.50" y1="1249.60" x2="1504.50" y2="1266.20" stroke="#262626" stroke-width="1.2"/>
<text x="1504.37" y="1294.80" font-size="20.9" fill="#262626" text-anchor="middle">18</text>
<line x1="1572.50" y1="1249.60" x2="1572.50" y2="1266.20" stroke="#262626" stroke-width="1.2"/>
<text x="1572.71" y="1294.80" font-size="20.9" fill="#262626" text-anchor="middle">19</text>
<line x1="1641.50" y1="1249.60" x2="1641.50" y2="1266.20" stroke="#262626" stroke-width="1.2"/>
<text x="1641.05" y="1294.80" font-size="20.9" fill="#262626" text-anchor="middle">20</text>
<line x1="1709.50" y1="1249.60" x2="1709.50" y2="1266.20" stroke="#262626" stroke-width="1.2"/>
<text x="1709.39" y="1294.80" font-size="20.9" fill="#262626" text-anchor="middle">21</text>
<line x1="1777.50" y1="1249.60" x2="1777.50" y2="1266.20" stroke="#262626" stroke-width="1.2"/>
<text x="1777.72" y="1294.80" font-size="20.9" fill="#262626" text-anchor="middle">22</text>
<line x1="1846.50" y1="1249.60" x2="1846.50" y2="1266.20" stroke="#262626" stroke-width="1.2"/>
<text x="1846.06" y="1294.80" font-size="20.9" fill="#262626" text-anchor="middle">23</text>
<line x1="1914.50" y1="1249.60" x2="1914.50" y2="1266.20" stroke="#262626" stroke-width="1.2"/>
<line x1="275.50" y1="1266.50" x2="292.10" y2="1266.50" stroke="#262626" stroke-width="1.2"/>
<text x="265.50" y="1273.60" font-size="20.9" fill="#262626" text-anchor="end">0</text>
<line x1="275.50" y1="1192.50" x2="292.10" y2="1192.50" stroke="#262626" stroke-width="1.2"/>
<text x="265.50" y="1200.00" font-size="20.9" fill="#262626" text-anchor="end">2</text>
<line x1="275.50" y1="1119.50" x2="292.10" y2="1119.50" stroke="#262626" stroke-width="1.2"/>
<text x="265.50" y="1126.40" font-size="20.9" fill="#262626" text-anchor="end">4</text>
<line x1="275.50" y1="1045.50" x2="292.10" y2="1045.50" stroke="#262626" stroke-width="1.2"/>
<text x="265.50" y="1052.80" font-size="20.9" fill="#262626" text-anchor="end">6</text>
<line x1="275.50" y1="971.50" x2="292.10" y2="971.50" stroke="#262626" stroke-width="1.2"/>
<text x="265.50" y="979.20" font-size="20.9" fill="#262626" text-anchor="end">8</text>
<text x="1094.95" y="1327.00" font-size="23.0" fill="#262626" text-anchor="middle">Time UTC / h</text>
<text x="240.50" y="1100.60" font-size="23.0" fill="#262626" text-anchor="middle" transform="rotate(-90 240.50 1100.60)">Warning Values</text>
<text x="1093.70" y="1359.00" font-size="20.9" fill="#000" text-anchor="middle">Last updated: Sat 15 Nov 2025 16:50:35 NZDT</text>
<rect x="530.70" y="933.80" width="110.60" height="39.30" fill="#fff" stroke="#00ffff" stroke-width="1.3"/>
<text x="537.10" y="960.90" font-size="20.9" fill="#000">time now</text>
</svg>
</body></html>
